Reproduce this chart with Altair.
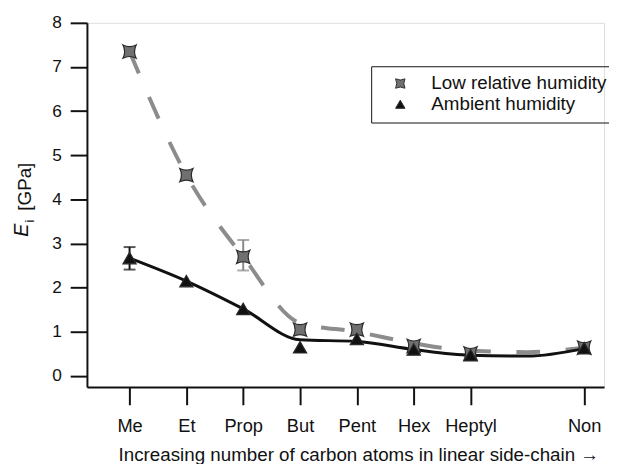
import altair as alt
import pandas as pd

# ---- data ----
categories = ["Me", "Et", "Prop", "But", "Pent", "Hex", "Heptyl", "Non"]
positions = [1, 2, 3, 4, 5, 6, 7, 9]
low_rh = [7.35, 4.55, 2.70, 1.05, 1.05, 0.68, 0.51, 0.64]
ambient = [2.67, 2.15, 1.52, 0.65, 0.84, 0.60, 0.47, 0.63]

# error bars (only where visible)
low_err_cat = ["Prop"]
low_err_lo = [2.39]
low_err_hi = [3.08]
amb_err_cat = ["Me"]
amb_err_lo = [2.41]
amb_err_hi = [2.92]

# smooth fit curves
fit_x = [1, 2, 3, 4, 5, 6, 7, 8, 9]
low_fit = [7.35, 4.55, 2.70, 1.20, 1.00, 0.74, 0.57, 0.54, 0.64]
amb_fit = [2.67, 2.15, 1.52, 0.82, 0.78, 0.60, 0.47, 0.45, 0.62]

S_LOW = "Low relative humidity"
S_AMB = "Ambient humidity"
FONT = "Liberation Sans"

pos_of = dict(zip(categories, positions))

pts = pd.DataFrame({
    "x": positions * 2,
    "y": low_rh + ambient,
    "series": [S_LOW] * len(positions) + [S_AMB] * len(positions),
})
fit_low_df = pd.DataFrame({"x": fit_x, "y": low_fit})
fit_amb_df = pd.DataFrame({"x": fit_x, "y": amb_fit})
err_low_df = pd.DataFrame({"x": [pos_of[c] for c in low_err_cat], "lo": low_err_lo, "hi": low_err_hi})
err_amb_df = pd.DataFrame({"x": [pos_of[c] for c in amb_err_cat], "lo": amb_err_lo, "hi": amb_err_hi})

label_expr = "{" + ",".join(f"'{p}':'{c}'" for p, c in zip(positions, categories)) + "}[datum.value]"

xscale = alt.Scale(domain=[0.25, 9.35], nice=False, zero=False)
yscale = alt.Scale(domain=[-0.25, 8], nice=False, zero=False)

x_axis = alt.Axis(
    values=positions, labelExpr=label_expr, grid=False,
    title="Increasing number of carbon atoms in linear side-chain \u2192",
    titleFont=FONT, titleFontSize=19, titleFontWeight="normal", titleColor="#111",
    titleX=275, titleY=75, titleBaseline="alphabetic",
    labelFont=FONT, labelFontSize=18.5, labelColor="#111", labelPadding=12,
    tickSize=18, tickWidth=2, tickColor="#111",
    domainWidth=2, domainColor="#111",
)
y_axis = alt.Axis(
    values=list(range(0, 9)), grid=False, title=None,
    labelFont=FONT, labelFontSize=17.5, labelColor="#111", labelPadding=9,
    tickSize=17, tickWidth=2, tickColor="#111",
    domainWidth=2, domainColor="#111",
)

X = alt.X("x:Q", scale=xscale, axis=x_axis)
Y = alt.Y("y:Q", scale=yscale, axis=y_axis)

line_low = alt.Chart(fit_low_df).mark_line(
    interpolate="monotone", color="#8c8c8c", strokeWidth=4, strokeDash=[24, 26]
).encode(x=X, y=Y)
line_amb = alt.Chart(fit_amb_df).mark_line(
    interpolate="monotone", color="#111111", strokeWidth=3
).encode(x=X, y=Y)


def errbar(df, color):
    rule = alt.Chart(df).mark_rule(color=color, strokeWidth=2).encode(
        x=alt.X("x:Q", scale=xscale), y=alt.Y("lo:Q", scale=yscale), y2="hi:Q")
    cap_lo = alt.Chart(df).mark_tick(color=color, orient="horizontal", size=12, thickness=2).encode(
        x=alt.X("x:Q", scale=xscale), y=alt.Y("lo:Q", scale=yscale))
    cap_hi = alt.Chart(df).mark_tick(color=color, orient="horizontal", size=12, thickness=2).encode(
        x=alt.X("x:Q", scale=xscale), y=alt.Y("hi:Q", scale=yscale))
    return rule + cap_lo + cap_hi


concave_square = "M-1,-1 Q0,-0.5 1,-1 Q0.5,0 1,1 Q0,0.5 -1,1 Q-0.5,0 -1,-1 Z"

legend_common = dict(title=None, orient="none", legendX=288, legendY=44,
                     strokeColor="#111", padding=8, labelFont=FONT, labelFontSize=19,
                     labelColor="#111", labelLimit=0, symbolOffset=12, labelOffset=22,
                     rowPadding=1, symbolSize=90, symbolStrokeWidth=1)

points = alt.Chart(pts).mark_point(
    filled=True, opacity=1, stroke="#2a2a2a", strokeWidth=1.2, size=180
).encode(
    x=X, y=Y,
    color=alt.Color("series:N", scale=alt.Scale(domain=[S_LOW, S_AMB], range=["#707070", "#111111"]),
                    legend=alt.Legend(**legend_common)),
    shape=alt.Shape("series:N", scale=alt.Scale(domain=[S_LOW, S_AMB], range=[concave_square, "triangle-up"]),
                    legend=alt.Legend(**legend_common)),
    order=alt.Order("series:N", sort="descending"),
)

# y axis title: italic E with subscript i, then [GPa]
t_e = alt.Chart(pd.DataFrame({"t": ["E"]})).mark_text(
    font=FONT, fontSize=20, fontStyle="italic", angle=270, align="center", baseline="middle", color="#111"
).encode(text="t:N", x=alt.value(-66), y=alt.value(210))
t_i = alt.Chart(pd.DataFrame({"t": ["i"]})).mark_text(
    font=FONT, fontSize=13, angle=270, align="center", baseline="middle", color="#111"
).encode(text="t:N", x=alt.value(-58), y=alt.value(201))
t_g = alt.Chart(pd.DataFrame({"t": ["[GPa]"]})).mark_text(
    font=FONT, fontSize=19, angle=270, align="center", baseline="middle", color="#111"
).encode(text="t:N", x=alt.value(-63), y=alt.value(166))

chart = alt.layer(
    line_low, line_amb,
    errbar(err_low_df, "#888888"), errbar(err_amb_df, "#111111"),
    points, t_e, t_i, t_g,
).properties(
    width=524, height=369,
    autosize=alt.AutoSizeParams(type="none"),
    padding={"left": 80, "top": 12, "right": 5, "bottom": 75},
).configure_view(stroke=None).configure(background="white")

chart.save("out.html", embed_options={"renderer": "svg", "actions": False})
